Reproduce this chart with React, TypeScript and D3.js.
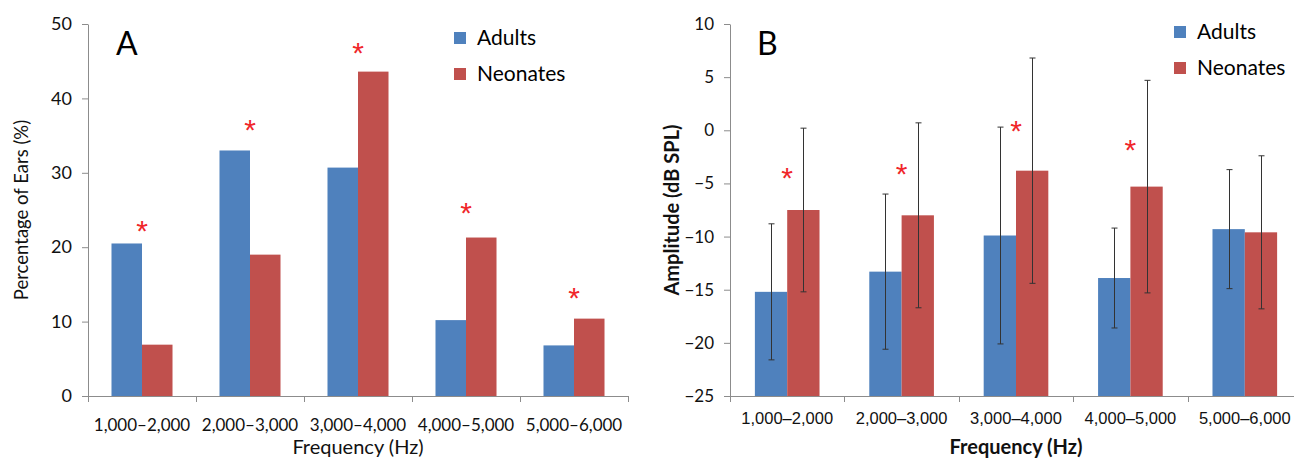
import React, { useRef, useEffect } from 'react'
import * as d3 from 'd3'

// categories shared by both panels
var freqBands = ['1,000–2,000', '2,000–3,000', '3,000–4,000', '4,000–5,000', '5,000–6,000']
var groups = ['Adults', 'Neonates']

// panel A: percentage of ears
var earsAdults = [20.5, 33, 30.7, 10.2, 6.8]
var earsNeonates = [6.9, 19, 43.6, 21.3, 10.4]
var earsStars = [22.6, 36.2, 46.5, 25, 13.6]
var ticksA = [0, 10, 20, 30, 40, 50]

// panel B: amplitude mean +- sd
var ampAdults = [-15.2, -13.3, -9.9, -13.9, -9.3]
var ampAdultsSd = [6.4, 7.3, 10.2, 4.7, 5.6]
var ampNeonates = [-7.5, -8.0, -3.8, -5.3, -9.6]
var ampNeonatesSd = [7.7, 8.7, 10.6, 10, 7.2]
var ampStars = [-4.25, -3.8, 0.2, -1.6, null]
var ticksB = [-25, -20, -15, -10, -5, 0, 5, 10]

const BLUE = '#4f81bd'
const RED = '#c0504d'
const AXIS = '#8c8c8c'
const STAR = '#f0262a'
const FONT = 'Lato, "Open Sans", sans-serif'

export default function App() {
  const canvas = useRef<SVGSVGElement>(null)

  useEffect(() => {
    const svg = d3.select(canvas.current)
    svg.selectAll('*').remove()

    function panel(opts: any) {
      const g = svg.append('g')
      const x = d3.scaleBand().domain(freqBands).range([opts.left, opts.right])
      const sub = d3.scaleBand().domain(groups).range([0, x.bandwidth()]).paddingOuter(0.77)
      const y = d3.scaleLinear().domain(opts.domain).range([396, 24])
      const base = opts.domain[0]

      // bars
      opts.series.forEach((vals: number[], si: number) => {
        g.append('g').selectAll('rect').data(vals).enter().append('rect')
          .attr('x', (d, i) => (x(freqBands[i]) as number) + (sub(groups[si]) as number))
          .attr('width', sub.bandwidth())
          .attr('y', (d) => y(d))
          .attr('height', (d) => y(base) - y(d))
          .attr('fill', si === 0 ? BLUE : RED)
      })

      // error bars
      if (opts.errors) {
        opts.errors.forEach((sds: number[], si: number) => {
          const vals = opts.series[si]
          const eg = g.append('g').attr('stroke', '#333').attr('stroke-width', 1)
          sds.forEach((sd, i) => {
            const cx = Math.round((x(freqBands[i]) as number) + (sub(groups[si]) as number) + sub.bandwidth() / 2) + 0.5
            const y1 = y(vals[i] + sd), y2 = y(vals[i] - sd)
            eg.append('line').attr('x1', cx).attr('x2', cx).attr('y1', y1).attr('y2', y2)
            eg.append('line').attr('x1', cx - 3).attr('x2', cx + 3).attr('y1', y1).attr('y2', y1)
            eg.append('line').attr('x1', cx - 3).attr('x2', cx + 3).attr('y1', y2).attr('y2', y2)
          })
        })
      }

      // y axis
      const yAxis = g.append('g').attr('transform', `translate(${opts.left},0)`)
        .call(d3.axisLeft(y).tickValues(opts.ticks).tickSize(6).tickSizeOuter(0).tickPadding(10))
      yAxis.select('.domain').attr('stroke', AXIS)
      yAxis.selectAll('line').attr('stroke', AXIS)
      yAxis.selectAll('text').attr('font-family', FONT).attr('font-size', opts.ytickSize).attr('fill', '#111')

      // x axis
      g.append('line').attr('x1', opts.left).attr('x2', opts.right).attr('y1', 396.5).attr('y2', 396.5).attr('stroke', AXIS)
      const bounds = freqBands.map((c) => x(c) as number).concat([opts.right])
      g.selectAll('.xtick').data(bounds).enter().append('line')
        .attr('x1', (d) => Math.round(d) + 0.5).attr('x2', (d) => Math.round(d) + 0.5)
        .attr('y1', 396).attr('y2', 402).attr('stroke', AXIS)
      g.selectAll('.xlab').data(freqBands).enter().append('text')
        .attr('x', (d) => (x(d) as number) + x.bandwidth() / 2)
        .attr('y', opts.xlabY)
        .attr('text-anchor', 'middle')
        .attr('font-family', opts.xtickFont).attr('font-size', opts.xtickSize).attr('fill', '#111')
        .text((d) => d)

      // stars
      g.selectAll('.star').data(opts.stars).enter().filter((d: any) => d !== null).append('text')
        .attr('x', (d: any) => (x(freqBands[opts.stars.indexOf(d)]) as number) + x.bandwidth() / 2)
        .attr('y', (d: any) => y(d) + 13)
        .attr('text-anchor', 'middle')
        .attr('font-family', 'Liberation Sans, Arial, sans-serif').attr('font-size', 30).attr('fill', STAR)
        .text('*')

      // titles
      g.append('text').attr('x', (opts.left + opts.right) / 2).attr('y', 454)
        .attr('text-anchor', 'middle').attr('font-family', FONT).attr('font-size', opts.titleSize)
        .attr('font-weight', opts.bold ? 'bold' : 'normal').attr('fill', '#111')
        .text('Frequency (Hz)')
      g.append('text').attr('transform', `translate(${opts.ytitleX},210) rotate(-90)`)
        .attr('text-anchor', 'middle').attr('font-family', FONT).attr('font-size', opts.ytitleSize)
        .attr('font-weight', opts.bold ? 'bold' : 'normal').attr('fill', '#111')
        .text(opts.ytitle)
      g.append('text').attr('x', opts.letterX).attr('y', 55)
        .attr('font-family', FONT).attr('font-size', 32).attr('fill', '#000')
        .text(opts.letter)

      // legend
      groups.forEach((k, i) => {
        g.append('rect').attr('x', opts.legX).attr('y', opts.legY + i * 36).attr('width', 12).attr('height', 12)
          .attr('fill', i === 0 ? BLUE : RED)
        g.append('text').attr('x', opts.legX + 23).attr('y', opts.legY + i * 36 + 13)
          .attr('font-family', FONT).attr('font-size', 21).attr('fill', '#000')
          .text(k)
      })
    }

    panel({
      left: 88, right: 628, domain: [0, 50], ticks: ticksA,
      series: [earsAdults, earsNeonates], stars: earsStars,
      ytickSize: 18, xtickSize: 17, xtickFont: FONT, xlabY: 431,
      ytitle: 'Percentage of Ears (%)', ytitleX: 28, ytitleSize: 18.5, titleSize: 20, bold: false,
      letter: 'A', letterX: 116, legX: 454, legY: 32
    })
    panel({
      left: 730, right: 1302, domain: [-25, 10], ticks: ticksB,
      series: [ampAdults, ampNeonates], errors: [ampAdultsSd, ampNeonatesSd], stars: ampStars,
      ytickSize: 17, xtickSize: 16.5, xtickFont: '"Liberation Sans", Arial, sans-serif', xlabY: 424,
      ytitle: 'Amplitude (dB SPL)', ytitleX: 679, ytitleSize: 20, titleSize: 20, bold: true,
      letter: 'B', letterX: 757, legX: 1174, legY: 26
    })
  }, [])

  return (
    <svg ref={canvas} width={1294} height={459}
      style={{ position: 'absolute', left: 0, top: 0, background: '#fff' }} />
  )
}
